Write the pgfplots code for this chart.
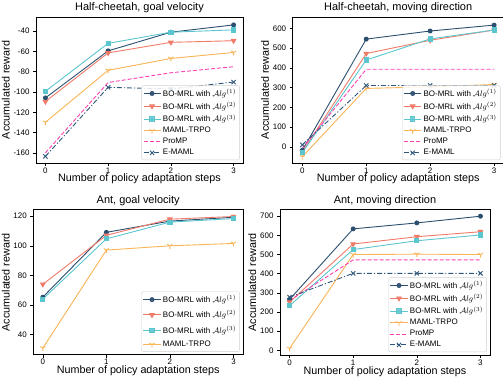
\documentclass[border=0pt]{standalone}
\usepackage{pgfplots}
\pgfplotsset{compat=1.18}
\usepackage{fontspec}
\setmainfont{Liberation Sans}
\usetikzlibrary{plotmarks}
\definecolor{cA}{RGB}{44,79,112}
\definecolor{cB}{RGB}{240,122,104}
\definecolor{cC}{RGB}{92,198,207}
\definecolor{cD}{RGB}{248,180,86}
\definecolor{cE}{RGB}{255,64,176}
\definecolor{cF}{RGB}{48,88,124}
\pgfdeclareplotmark{tridown}{%
  \pgfpathmoveto{\pgfqpoint{0pt}{0pt}}\pgfpathlineto{\pgfqpoint{0pt}{-\pgfplotmarksize}}%
  \pgfpathmoveto{\pgfqpoint{0pt}{0pt}}\pgfpathlineto{\pgfpointpolar{30}{\pgfplotmarksize}}%
  \pgfpathmoveto{\pgfqpoint{0pt}{0pt}}\pgfpathlineto{\pgfpointpolar{150}{\pgfplotmarksize}}%
  \pgfusepathqstroke}
\pgfplotsset{
  base/.style={
    scale only axis,
    xmin=-0.15, xmax=3.15,
    xtick={0,1,2,3},
    axis line style={black, line width=0.8bp},
    tick align=outside,
    xtick pos=bottom, ytick pos=left,
    major tick length=3bp,
    tick style={black, line width=0.6bp},
    tick label style={font=\fontsize{8}{9}\selectfont},
    xticklabel style={inner sep=1.5bp},
    /pgf/number format/assume math mode=true,
    label style={font=\fontsize{10.8}{12}\selectfont},
    title style={font=\fontsize{11}{12}\selectfont, at={(0.5,1)}, anchor=base, yshift=0.5bp},
    xlabel={Number of policy adaptation steps},
    ylabel={Accumulated reward},
    xlabel style={at={(0.5,0)}, anchor=base, yshift=-19bp, inner sep=1bp},
    ylabel style={yshift=-3bp},
    legend cell align=left,
    legend style={font=\fontsize{8}{9}\selectfont, draw=black!18, rounded corners=2bp,
      fill=white, fill opacity=0.85, text opacity=1, at={(rel axis cs:0.985,0.02)}, anchor=south east,
      row sep=0bp, inner sep=1.5bp},
  },
  sA/.style={cA, line width=0.9bp, mark=*, mark size=2bp, mark options={solid}},
  sB/.style={cB, line width=0.9bp, mark=triangle*, mark size=2.6bp, mark options={solid, rotate=180}},
  sC/.style={cC, line width=0.9bp, mark=square*, mark size=2.1bp, mark options={solid}},
  sD/.style={cD, line width=0.9bp, mark=tridown, mark size=3bp, mark options={solid}},
  sE/.style={cE, line width=0.9bp, dash pattern=on 4bp off 2bp},
  sF/.style={cF, line width=0.9bp, dash pattern=on 5bp off 2bp on 1.2bp off 2bp, mark=x, mark size=3bp, mark options={solid}},
}
\begin{document}
\begin{tikzpicture}[x=1bp,y=1bp]
% Top left
\begin{axis}[base, at={(36bp,217bp)}, anchor=south west, width=207bp, height=146bp,
  title={Half-cheetah, goal velocity}, ymin=-170, ymax=-26, ytick={-160,-140,...,-40}]
\addplot[sA] coordinates {(0,-105.8) (1,-59.4) (2,-41) (3,-33.8)};
\addlegendentry{BO-MRL with $\mathcal{A}lg^{(1)}$}
\addplot[sB] coordinates {(0,-109.4) (1,-61.4) (2,-51) (3,-49.4)};
\addlegendentry{BO-MRL with $\mathcal{A}lg^{(2)}$}
\addplot[sC] coordinates {(0,-99.3) (1,-52) (2,-41) (3,-38.7)};
\addlegendentry{BO-MRL with $\mathcal{A}lg^{(3)}$}
\addplot[sD] coordinates {(0,-129.8) (1,-78.6) (2,-66.9) (3,-61)};
\addlegendentry{MAML-TRPO}
\addplot[sE] coordinates {(0,-160) (1,-90.6) (2,-81) (3,-75)};
\addlegendentry{ProMP}
\addplot[sF] coordinates {(0,-163.5) (1,-95.4) (2,-97) (3,-90.2)};
\addlegendentry{E-MAML}
\end{axis}
% Top right
\begin{axis}[base, at={(292.7bp,217bp)}, anchor=south west, width=211bp, height=146bp,
  title={Half-cheetah, moving direction}, ymin=-82, ymax=658, ytick={0,100,...,600}]
\addplot[sA] coordinates {(0,-18) (1,546) (2,587) (3,617)};
\addlegendentry{BO-MRL with $\mathcal{A}lg^{(1)}$}
\addplot[sB] coordinates {(0,-27) (1,473) (2,540) (3,592)};
\addlegendentry{BO-MRL with $\mathcal{A}lg^{(2)}$}
\addplot[sC] coordinates {(0,-30) (1,440) (2,547) (3,592)};
\addlegendentry{BO-MRL with $\mathcal{A}lg^{(3)}$}
\addplot[sD] coordinates {(0,-50) (1,296) (2,304) (3,316)};
\addlegendentry{MAML-TRPO}
\addplot[sE] coordinates {(0,-8) (1,393) (2,393) (3,393)};
\addlegendentry{ProMP}
\addplot[sF] coordinates {(0,10) (1,311) (2,311) (3,311)};
\addlegendentry{E-MAML}
\end{axis}
% Bottom left
\begin{axis}[base, at={(33.3bp,25.3bp)}, anchor=south west, width=209.7bp, height=145bp,
  title={Ant, goal velocity}, ymin=26.4, ymax=124.4, ytick={40,60,...,120},
  legend style={row sep=2.5bp}]
\addplot[sA] coordinates {(0,65.3) (1,109.1) (2,116.7) (3,119.3)};
\addlegendentry{BO-MRL with $\mathcal{A}lg^{(1)}$}
\addplot[sB] coordinates {(0,74) (1,107.1) (2,118) (3,119.8)};
\addlegendentry{BO-MRL with $\mathcal{A}lg^{(2)}$}
\addplot[sC] coordinates {(0,64) (1,104.7) (2,116) (3,118.4)};
\addlegendentry{BO-MRL with $\mathcal{A}lg^{(3)}$}
\addplot[sD] coordinates {(0,30.9) (1,97.1) (2,100) (3,101.6)};
\addlegendentry{MAML-TRPO}
\end{axis}
% Bottom right
\begin{axis}[base, at={(280bp,25bp)}, anchor=south west, width=210bp, height=145.3bp,
  title={Ant, moving direction}, ymin=-24, ymax=734, ytick={0,100,...,700}]
\addplot[sA] coordinates {(0,266) (1,634) (2,665) (3,700)};
\addlegendentry{BO-MRL with $\mathcal{A}lg^{(1)}$}
\addplot[sB] coordinates {(0,252) (1,555) (2,593) (3,619)};
\addlegendentry{BO-MRL with $\mathcal{A}lg^{(2)}$}
\addplot[sC] coordinates {(0,233) (1,526) (2,572) (3,602)};
\addlegendentry{BO-MRL with $\mathcal{A}lg^{(3)}$}
\addplot[sD] coordinates {(0,10) (1,500) (2,502) (3,500)};
\addlegendentry{MAML-TRPO}
\addplot[sE] coordinates {(0,260) (1,472) (2,472) (3,472)};
\addlegendentry{ProMP}
\addplot[sF] coordinates {(0,278) (1,402) (2,402) (3,402)};
\addlegendentry{E-MAML}
\end{axis}
\pgfresetboundingbox
\path[use as bounding box] (0bp,0bp) rectangle (503bp,380bp);
\end{tikzpicture}
\end{document}
